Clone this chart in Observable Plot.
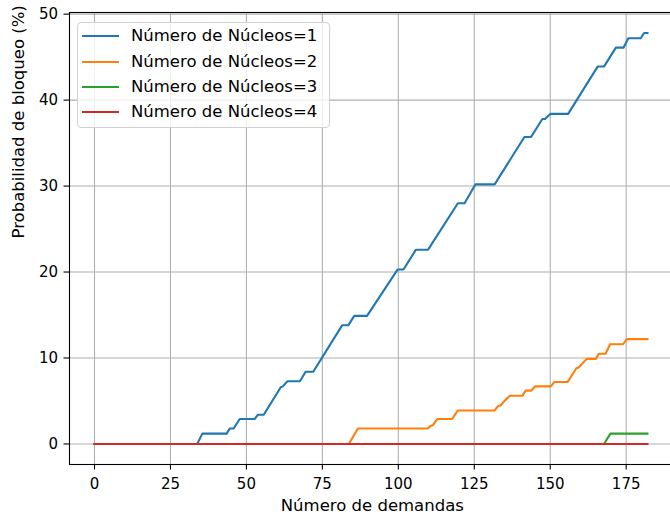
<!DOCTYPE html>
<html><head><meta charset="utf-8">
<script src="https://cdn.jsdelivr.net/npm/d3@7"></script>
<script src="https://cdn.jsdelivr.net/npm/@observablehq/plot@0.6"></script>
<style>
html,body{margin:0;padding:0;background:#fff;overflow:hidden;width:670px;height:517px}
#wrap{position:relative;width:670px;height:517px;overflow:hidden}
#wrap svg{position:absolute;left:0;top:0;max-width:none !important;width:685px !important;height:517px !important}
.legend{position:absolute;left:77px;top:22px;width:253px;height:106px;box-sizing:border-box;border:1px solid #d0d0d0;border-radius:4px;background:rgba(255,255,255,0.8);font-family:"DejaVu Sans";font-size:16.5px;color:#000}
.sw{position:absolute;left:4px;width:37px;height:2px}
.lab{position:absolute;left:53px;white-space:nowrap;line-height:20px}
</style>
</head><body>
<div id="wrap"></div>
<script>
const xTicks = [0, 25, 50, 75, 100, 125, 150, 175];
const yTicks = [0, 10, 20, 30, 40, 50];

const names = ["Número de Núcleos=1", "Número de Núcleos=2", "Número de Núcleos=3", "Número de Núcleos=4"];
const colors = ["#1f77b4", "#ff7f0e", "#2ca02c", "#d62728"];

const xN1 = [0,33.8,35.5,43.5,44.5,45.8,47.8,52.7,53.8,55.7,61.3,62,63.5,67.6,69.5,72,81.5,83.5,85.5,89.7,99.8,101.7,105.8,109.8,119.6,121.8,125.4,131.7,141.5,143.7,147.4,148.3,150.1,155.9,165.6,167.7,171.6,174.1,175.7,179.8,180.9,182];
const yN1 = [0,0,1.2,1.2,1.8,1.8,2.9,2.9,3.4,3.4,6.6,6.7,7.3,7.3,8.4,8.4,13.8,13.8,14.9,14.9,20.3,20.3,22.6,22.6,28.0,28.0,30.2,30.2,35.7,35.7,37.8,37.8,38.4,38.4,43.9,43.9,46.1,46.1,47.2,47.2,47.8,47.8];

const xN2 = [0,83.7,86.7,109.7,110.6,111.4,112.8,117.7,119.6,131.7,132.8,133.7,135.2,136.7,140.8,141.9,143.7,145.1,150.2,151.3,155.7,158.6,159.3,162,165,166,168.2,169.7,174,175.2,182];
const yN2 = [0,0,1.8,1.8,2.1,2.2,2.9,2.9,3.9,3.9,4.4,4.5,5.1,5.6,5.6,6.2,6.2,6.7,6.7,7.2,7.2,8.8,8.9,9.9,9.9,10.5,10.5,11.6,11.6,12.2,12.2];

const xN3 = [0,167.7,169.8,182];
const yN3 = [0,0,1.2,1.2];

const xN4 = [0,182];
const yN4 = [0,0];

const xLabel = "Número de demandas";
const yLabel = "Probabilidad de bloqueo (%)";

const seriesX = [xN1, xN2, xN3, xN4];
const seriesY = [yN1, yN2, yN3, yN4];
const rows = names.flatMap((n, k) => seriesX[k].map((x, i) => ({serie: n, x, y: seriesY[k][i]})));

const chart = Plot.plot({
  width: 685, height: 517,
  marginLeft: 69, marginRight: 10.4, marginTop: 12, marginBottom: 53,
  style: {fontFamily: "DejaVu Sans", fontSize: "15px", color: "#000", background: "transparent", maxWidth: "none"},
  x: {domain: [-8.23, 191.1], label: null},
  y: {domain: [-2.39, 50.19], label: null},
  color: {domain: names, range: colors},
  marks: [
    Plot.gridX(xTicks, {stroke: "#b0b0b0", strokeOpacity: 1, strokeWidth: 1.1}),
    Plot.gridY(yTicks, {stroke: "#b0b0b0", strokeOpacity: 1, strokeWidth: 1.1}),
    Plot.line(rows, {x: "x", y: "y", z: "serie", stroke: "serie", strokeWidth: 2.1, strokeLinejoin: "round", strokeLinecap: "square"}),
    Plot.frame({stroke: "#000", strokeWidth: 1.1}),
    Plot.axisX(xTicks, {tickSize: 5.5, tickPadding: 8, strokeWidth: 1.1, label: null}),
    Plot.axisY(yTicks, {tickSize: 5.5, tickPadding: 6, strokeWidth: 1.1, label: null}),
    Plot.text([xLabel], {frameAnchor: "bottom", dy: 46, fontSize: 16.5, fill: "#000"}),
    Plot.text([yLabel], {frameAnchor: "left", dx: -51, rotate: -90, fontSize: 16.5, fill: "#000"})
  ]
});
const wrap = document.getElementById("wrap");
wrap.appendChild(chart);

const leg = document.createElement("div");
leg.className = "legend";
const centers = [13, 39, 64, 89];
names.forEach((n, i) => {
  const sw = document.createElement("div");
  sw.className = "sw";
  sw.style.top = (centers[i] - 1) + "px";
  sw.style.background = colors[i];
  leg.appendChild(sw);
  const lab = document.createElement("div");
  lab.className = "lab";
  lab.style.top = (centers[i] - 10) + "px";
  lab.textContent = n;
  leg.appendChild(lab);
});
wrap.appendChild(leg);
</script>
</body></html>
